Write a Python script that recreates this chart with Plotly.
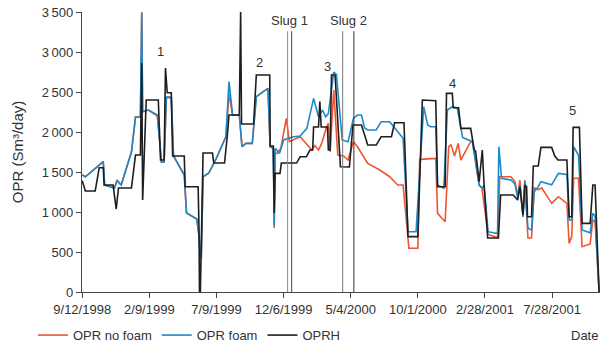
import pandas as pd
import plotly.graph_objects as go

START = pd.Timestamp("1998-09-12")

# Days since 12 Sep 1998 and rates (Sm3/day)
oprh_days = [0, 7, 29, 38, 47, 49, 69, 76, 81, 110, 119, 130, 133, 135, 143, 170, 175, 183, 186, 190,
             199, 202, 228, 230, 259, 261, 262, 264, 270, 291, 294, 318, 324, 328, 351, 354, 356, 383,
             389, 419, 420, 427, 429, 431, 442, 445, 479, 487, 501, 509, 515, 517, 528, 531, 534, 548,
             550, 554, 557, 565, 577, 597, 605, 624, 638, 657, 668, 691, 698, 719, 728, 750, 760, 790,
             794, 811, 814, 827, 829, 841, 846, 868, 876, 879, 887, 894, 898, 906, 930, 935, 963, 973,
             978, 985, 989, 993, 995, 1004, 1008, 1019, 1025, 1049, 1056, 1063, 1083, 1088, 1094, 1097,
             1111, 1113, 1117, 1135, 1141, 1146, 1155]
oprh_vals = [1390, 1262, 1262, 1554, 1554, 1337, 1337, 1037, 1300, 1300, 1712, 1712, 2860, 1150, 2400,
             2400, 1650, 1650, 2800, 2490, 2490, 1700, 1700, 1316, 1316, 775, 0, 0, 1737, 1737, 1612,
             1612, 1941, 2212, 2212, 3500, 2100, 2100, 2712, 2712, 1825, 1825, 987, 1483, 1483, 1612,
             1612, 1691, 1691, 1775, 1775, 2062, 2062, 2380, 2062, 2062, 1775, 1775, 2712, 2712, 1566,
             1562, 2087, 2087, 1837, 1837, 1941, 1941, 2116, 2116, 692, 692, 2400, 2391, 1316, 1316,
             2483, 2483, 2304, 2304, 2045, 2045, 1775, 1760, 1380, 1775, 1337, 675, 675, 1212, 1212,
             1150, 1316, 962, 1337, 1316, 941, 941, 1575, 1575, 1808, 1808, 1700, 1650, 1650, 941, 941,
             2058, 2058, 1700, 858, 858, 1337, 1337, 0]

foam_days = [0, 7, 47, 50, 72, 78, 87, 110, 119, 130, 133, 135, 148, 168, 177, 183, 188, 199, 204, 228,
             233, 256, 261, 264, 266, 270, 283, 300, 321, 328, 336, 351, 357, 366, 380, 389, 415, 420,
             427, 429, 431, 441, 450, 472, 487, 502, 517, 528, 537, 544, 550, 562, 568, 581, 594, 606,
             615, 624, 631, 638, 657, 668, 687, 717, 728, 746, 763, 772, 778, 790, 794, 808, 816, 827,
             838, 850, 872, 887, 893, 898, 907, 928, 931, 937, 958, 967, 973, 978, 985, 989, 996, 1004,
             1010, 1019, 1025, 1049, 1064, 1083, 1088, 1094, 1098, 1109, 1117, 1135, 1141, 1146, 1155]
foam_vals = [1462, 1440, 1630, 1337, 1300, 1387, 1337, 1750, 2187, 2187, 3480, 2250, 2275, 2212, 1625,
             1625, 2437, 2437, 1700, 1462, 987, 912, 700, 425, 425, 1441, 1487, 1675, 1941, 2630, 2212,
             2212, 1816, 1858, 1858, 2441, 2546, 1816, 1796, 837, 1796, 1733, 1900, 1941, 1950, 2045,
             2420, 2191, 2275, 2191, 2230, 2750, 2720, 1900, 1879, 2170, 2212, 2212, 2050, 2025, 2025,
             2129, 2129, 1921, 754, 754, 2316, 2087, 2066, 2066, 1337, 1296, 2275, 2316, 2300, 1933,
             1879, 1337, 1300, 1330, 754, 730, 1816, 1421, 1400, 1350, 1180, 1337, 941, 1380, 796, 775,
             1254, 1316, 1379, 1340, 1483, 1470, 900, 900, 1816, 1712, 775, 740, 983, 950, 0]

nofoam_days = [0, 7, 47, 50, 72, 78, 87, 110, 119, 130, 133, 135, 148, 168, 177, 183, 188, 199, 204, 228,
               233, 256, 261, 264, 266, 270, 283, 300, 321, 328, 336, 351, 357, 366, 380, 389, 415, 420,
               427, 429, 431, 436, 444, 456, 463, 487, 513, 520, 528, 535, 545, 550, 554, 562, 571, 584,
               594, 606, 615, 638, 665, 687, 705, 717, 730, 750, 754, 776, 790, 794, 811, 819, 824, 832,
               840, 846, 868, 872, 887, 893, 907, 928, 933, 958, 967, 973, 978, 985, 989, 996, 1004,
               1010, 1019, 1027, 1049, 1064, 1083, 1088, 1094, 1098, 1109, 1117, 1135, 1141, 1146, 1155]
nofoam_vals = [1462, 1440, 1630, 1337, 1300, 1400, 1337, 1750, 2187, 2187, 3500, 2260, 2275, 2200, 1625,
               1625, 2430, 2430, 1700, 1462, 987, 912, 700, 425, 425, 1441, 1487, 1675, 1941, 2480, 2212,
               2212, 1816, 1858, 1858, 2441, 2546, 1816, 1796, 800, 1733, 1733, 1800, 2170, 1879, 1941,
               1775, 1830, 1775, 1858, 2045, 2108, 1754, 2525, 1712, 1700, 1650, 1879, 1816, 1608, 1525,
               1441, 1337, 1337, 546, 546, 1658, 1670, 1670, 983, 879, 1816, 1840, 1700, 1858, 1650,
               1879, 1879, 1337, 1300, 720, 680, 1441, 1440, 1380, 1200, 1400, 941, 1400, 675, 675, 1300,
               1280, 1300, 1108, 1191, 1108, 608, 700, 1421, 1421, 566, 600, 900, 880, 0]

# Slug injection markers (days since start) and event labels
slug_days = [459, 468, 582, 607]
slug_labels = ["Slug 1", "Slug 2"]
slug_label_days = [464, 595]
event_labels = ["1", "2", "3", "4", "5"]
event_days = [175, 396, 548, 828, 1096]
event_vals = [3012, 2875, 2825, 2612, 2275]

tick_days = [0, 150, 300, 450, 600, 750, 900, 1050]
tick_text = ["9/12/1998", "2/9/1999", "7/9/1999", "12/6/1999", "5/4/2000", "10/1/2000", "2/28/2001", "7/28/2001"]
y_ticks = [0, 500, 1000, 1500, 2000, 2500, 3000, 3500]
y_text = ["0", "500", "1\u2009000", "1\u2009500", "2\u2009000", "2\u2009500", "3\u2009000", "3\u2009500"]


def to_dates(days):
    return START + pd.to_timedelta(days, unit="D")


fig = go.Figure()
fig.add_trace(go.Scatter(x=to_dates(nofoam_days), y=nofoam_vals, mode="lines", name="OPR no foam",
                         line=dict(color="#EE5533", width=1.6)))
fig.add_trace(go.Scatter(x=to_dates(foam_days), y=foam_vals, mode="lines", name="OPR foam",
                         line=dict(color="#1B8AC9", width=1.6)))
fig.add_trace(go.Scatter(x=to_dates(oprh_days), y=oprh_vals, mode="lines", name="OPRH",
                         line=dict(color="#1E1E1E", width=1.6)))

slug_colors = ["#888888", "#444444", "#777777", "#333333"]
for d, c in zip(slug_days, slug_colors):
    xd = to_dates([d])[0]
    fig.add_shape(type="line", x0=xd, x1=xd, y0=0, y1=3260, xref="x", yref="y",
                  line=dict(color=c, width=1))

for lbl, d in zip(slug_labels, slug_label_days):
    fig.add_annotation(x=to_dates([d])[0], y=3400, text=lbl, showarrow=False,
                       font=dict(size=13, color="#333333"))
for lbl, d, v in zip(event_labels, event_days, event_vals):
    fig.add_annotation(x=to_dates([d])[0], y=v, text=lbl, showarrow=False,
                       font=dict(size=13, color="#333333"))

fig.add_annotation(x=1.0, y=-0.154, xref="paper", yref="paper", text="Date", showarrow=False,
                   xanchor="right", yanchor="middle", font=dict(size=13, color="#333333"))

fig.update_layout(
    width=603, height=348,
    margin=dict(l=82, r=3, t=12, b=56, autoexpand=False),
    paper_bgcolor="white", plot_bgcolor="white",
    font=dict(family="Liberation Sans, Arial, sans-serif", size=13, color="#333333"),
    showlegend=True,
    legend=dict(orientation="h", x=-0.0946, y=-0.154, xanchor="left", yanchor="middle",
                font=dict(size=13, color="#333333"), bgcolor="rgba(0,0,0,0)"),
)
fig.update_xaxes(type="date", range=[to_dates([-0.5])[0], to_dates([1157])[0]],
                 tickvals=to_dates(tick_days), ticktext=tick_text,
                 showline=True, linecolor="#444444", linewidth=1.3, ticks="outside", ticklen=5,
                 tickcolor="#444444", showgrid=False, zeroline=False, tickfont=dict(size=13))
fig.update_yaxes(range=[0, 3500], tickvals=y_ticks, ticktext=y_text,
                 showline=True, linecolor="#444444", linewidth=1.3, ticks="outside", ticklen=5,
                 tickcolor="#444444", showgrid=False, zeroline=False, tickfont=dict(size=13),
                 title=dict(text="OPR (Sm\u00b3/day)", font=dict(size=15), standoff=14))

# remove the default 8px body margin so the 603x348 figure fills the window exactly
fig.write_html("out.html", config={"displayModeBar": False},
               post_script="document.body.style.margin='0';document.body.style.overflow='hidden';")
